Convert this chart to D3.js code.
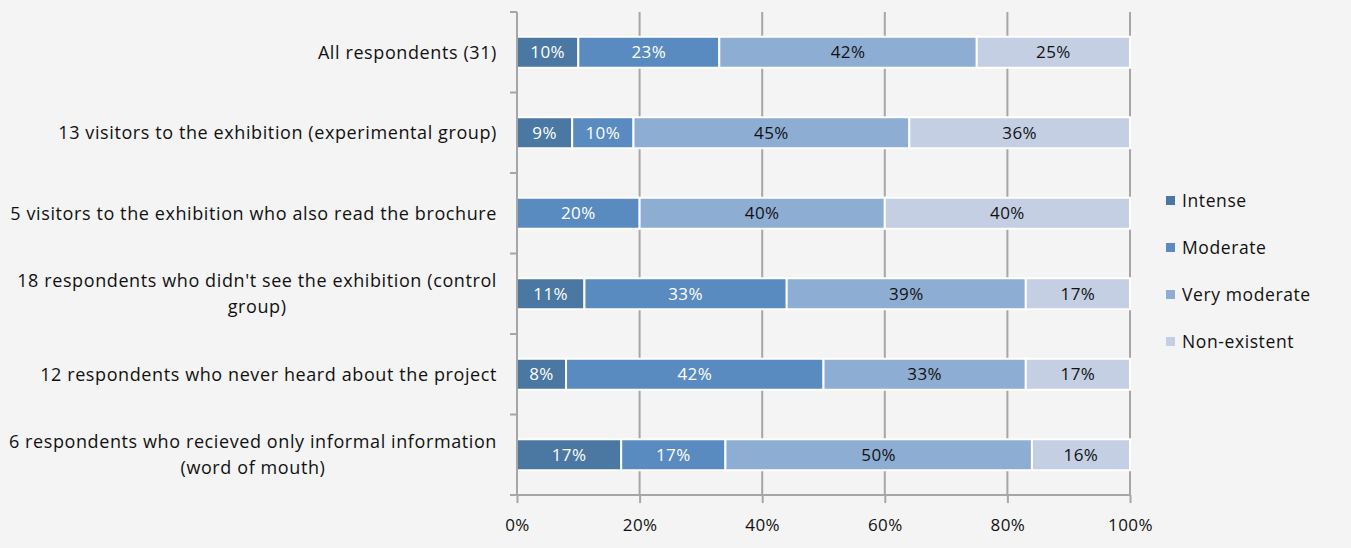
<!DOCTYPE html>
<html><head><meta charset="utf-8">
<script src="https://cdn.jsdelivr.net/npm/d3@7"></script>
<style>
html,body{margin:0;padding:0;background:#f4f4f4;}
svg{display:block;}
text{font-family:"Open Sans",sans-serif;}
</style></head>
<body><svg id="c" width="1351" height="548"></svg>
<script>
const categories = [
  ["All respondents (31)"],
  ["13 visitors to the exhibition (experimental group)"],
  ["5 visitors to the exhibition who also read the brochure"],
  ["18 respondents who didn't see the exhibition (control", "group)"],
  ["12 respondents who never heard about the project"],
  ["6 respondents who recieved only informal information", "(word of mouth)"]
];
const seriesNames = ["Intense", "Moderate", "Very moderate", "Non-existent"];
const intense      = [10, 9, 0, 11, 8, 17];
const moderate     = [23, 10, 20, 33, 42, 17];
const veryModerate = [42, 45, 40, 39, 33, 50];
const nonExistent  = [25, 36, 40, 17, 17, 16];
const xTicks = [0, 20, 40, 60, 80, 100];
const colors = ["#4a78a3", "#5a8bc0", "#8eadd3", "#c4cfe4"];
const labelColors = ["#ffffff", "#ffffff", "#111111", "#111111"];

const series = [intense, moderate, veryModerate, nonExistent];
const rows = categories.map((c, i) => {
  const o = {idx: i};
  seriesNames.forEach((s, k) => o[s] = series[k][i]);
  return o;
});
const stacked = d3.stack().keys(seriesNames)(rows);

const svg = d3.select("#c");
const x = d3.scaleLinear().domain([0, 100]).range([517, 1130]);
const y = d3.scaleBand().domain(d3.range(categories.length)).range([12, 495]).paddingInner(0.615).paddingOuter(0.3075);
const yStep = y.step();

// gridlines
svg.append("g").selectAll("line").data(xTicks.slice(1)).join("line")
  .attr("x1", d => x(d)).attr("x2", d => x(d))
  .attr("y1", 12).attr("y2", 495)
  .attr("stroke", "#a6a6a6").attr("stroke-width", 2);

// bars
const g = svg.append("g");
stacked.forEach((layer, k) => {
  g.append("g").selectAll("rect").data(layer.filter(d => d[1] - d[0] > 0)).join("rect")
    .attr("x", d => x(d[0])).attr("width", d => x(d[1]) - x(d[0]))
    .attr("y", d => y(d.data.idx)).attr("height", y.bandwidth())
    .attr("fill", colors[k]).attr("stroke", "#ffffff").attr("stroke-width", 2);
  g.append("g").selectAll("text").data(layer.filter(d => d[1] - d[0] > 0)).join("text")
    .attr("x", d => (x(d[0]) + x(d[1])) / 2)
    .attr("y", d => y(d.data.idx) + y.bandwidth() / 2)
    .attr("dy", "0.36em").attr("text-anchor", "middle")
    .attr("font-size", 17).attr("letter-spacing", 0.4).attr("fill", labelColors[k])
    .text(d => (d[1] - d[0]) + "%");
});

// y axis
svg.append("line").attr("x1", 517).attr("x2", 517).attr("y1", 12).attr("y2", 495)
  .attr("stroke", "#a6a6a6").attr("stroke-width", 2);
const yTickPos = d3.range(categories.length + 1).map(i => 12 + i * yStep);
svg.append("g").selectAll("line").data(yTickPos).join("line")
  .attr("x1", 510).attr("x2", 517).attr("y1", d => d).attr("y2", d => d)
  .attr("stroke", "#a6a6a6").attr("stroke-width", 2);

// x axis
const xAxis = d3.axisBottom(x).tickValues(xTicks).tickFormat(d => d + "%").tickSize(8).tickSizeOuter(0).tickPadding(16);
const xa = svg.append("g").attr("transform", "translate(0,495)").call(xAxis);
xa.select(".domain").remove();
xa.selectAll(".tick line").attr("stroke", "#a6a6a6").attr("stroke-width", 2);
xa.selectAll(".tick text").attr("font-size", 17).attr("letter-spacing", 0.4).attr("fill", "#111").attr("font-family", "'Open Sans',sans-serif");
svg.append("line").attr("x1", 510).attr("x2", 1130).attr("y1", 495).attr("y2", 495)
  .attr("stroke", "#a6a6a6").attr("stroke-width", 2);

// category labels
const lineH = 26;
categories.forEach((lines, i) => {
  const cy = y(i) + y.bandwidth() / 2;
  const grp = svg.append("g");
  const texts = lines.map((t, j) => grp.append("text")
    .attr("font-size", 18).attr("letter-spacing", 0.6).attr("fill", "#111")
    .attr("y", cy + (j - (lines.length - 1) / 2) * lineH)
    .attr("dy", "0.36em").text(t));
  const widths = texts.map(t => t.node().getComputedTextLength());
  const maxW = d3.max(widths);
  const right = 497;
  texts.forEach(t => t.attr("x", right - maxW / 2).attr("text-anchor", "middle"));
});

// legend
const lg = svg.append("g");
seriesNames.forEach((s, k) => {
  const ly = 201 + k * 47;
  lg.append("rect").attr("x", 1166).attr("y", ly - 5).attr("width", 9).attr("height", 9).attr("fill", colors[k]);
  lg.append("text").attr("x", 1182).attr("y", ly).attr("dy", "0.36em")
    .attr("font-size", 17.5).attr("letter-spacing", 0.6).attr("fill", "#111").text(s);
});
</script></body></html>
